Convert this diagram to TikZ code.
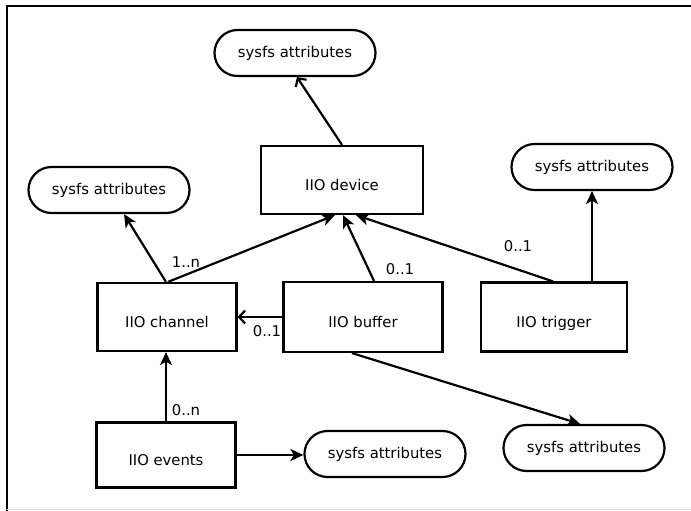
\documentclass[tikz,border=0pt]{standalone}
\usepackage{fontspec}
\setmainfont{DejaVu Sans}
\usetikzlibrary{arrows.meta}
\begin{document}
\begin{tikzpicture}[x=1pt,y=-1pt,
  every node/.style={font=\fontsize{14.8}{17}\selectfont},
  box/.style={draw,line width=2.2pt,inner sep=0pt,text height=21pt,text depth=0pt},
  attr/.style={draw,line width=2.2pt,inner sep=0pt,minimum width=161pt,minimum height=46pt,rounded corners=23pt},
  con/.style={line width=2.2pt,-{Stealth[length=13pt,width=12pt,inset=3.5pt]}},
  ocon/.style={line width=2.2pt,-{Straight Barb[length=6pt,width=13pt]}},
  card/.style={inner sep=0pt}]
\useasboundingbox (0,0) rectangle (691,511);
\draw[line width=2.5pt] (7,511) -- (7,6) -- (691,6);
\draw[line width=1pt,black!12] (7,509.5) -- (691,509.5);

\node[attr] (sa1) at (295,53) {sysfs attributes};
\node[box,minimum width=162pt,minimum height=68pt] (dev) at (342,180) {IIO device};
\node[attr] (sa2) at (109,190) {sysfs attributes};
\node[attr] (sa3) at (592,167) {sysfs attributes};
\node[box,minimum width=139pt,minimum height=68pt] (chan) at (167,317) {IIO channel};
\node[box,minimum width=159pt,minimum height=70pt] (buf) at (363,317) {IIO buffer};
\node[box,minimum width=146pt,minimum height=69pt] (trig) at (554,317) {IIO trigger};
\node[box,minimum width=139pt,minimum height=65pt] (evt) at (166,455) {IIO events};
\node[attr] (sa4) at (385,454) {sysfs attributes};
\node[attr] (sa5) at (584,448) {sysfs attributes};

\draw[ocon] (dev.north) -- ([xshift=2pt]sa1.south);
\draw[con] ([xshift=-1pt]chan.north) -- ([xshift=15pt]sa2.south);
\draw[con] ([xshift=1pt]chan.north) -- ([xshift=-7pt]dev.south);
\draw[con] ([xshift=11pt]buf.north) -- ([xshift=1pt]dev.south);
\draw[con] ([xshift=-1pt]trig.north) -- ([xshift=14pt]dev.south);
\draw[con] (trig.north -| sa3.south) -- (sa3.south);
\draw[ocon] (buf.west) -- (chan.east);
\draw[con] (evt.north) -- (evt.north |- chan.south);
\draw[con] (evt.east) -- (evt.east -| sa4.west);
\draw[con] ([xshift=-11pt]buf.south) -- ([xshift=-4pt]sa5.north);

\node[card] (c1) at (186,262) {1..n};
\node[card] (c2) at (400,269) {0..1};
\node[card] (c3) at (518,246) {0..1};
\node[card] (c4) at (267,331) {0..1};
\node[card] (c5) at (186,410) {0..n};
\end{tikzpicture}
\end{document}
